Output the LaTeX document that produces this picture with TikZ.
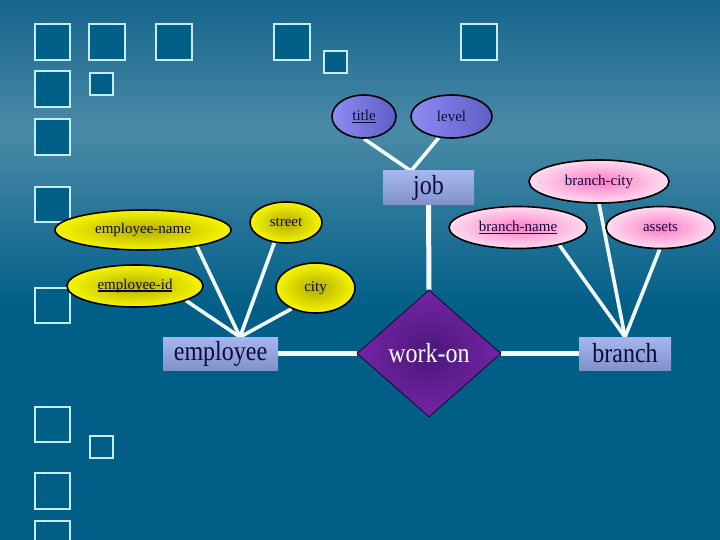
\documentclass[tikz,border=0pt]{standalone}
\usepackage{fontspec}
\setmainfont{Liberation Serif}
\usetikzlibrary{shapes.geometric}
\definecolor{bgtop}{HTML}{16658D}
\definecolor{bgmid}{HTML}{4A8AA7}
\definecolor{bgbot}{HTML}{005E87}
\definecolor{sqfill}{HTML}{005F87}
\definecolor{sqline}{HTML}{C4EEFF}
\definecolor{linew}{HTML}{F2FBFF}
\definecolor{navy}{HTML}{0C0C3C}
\definecolor{blueL}{HTML}{8C8CF2}
\definecolor{blueD}{HTML}{5E5EC4}
\definecolor{yelIn}{HTML}{B4AC00}
\definecolor{yelOut}{HTML}{F6F600}
\definecolor{pinkIn}{HTML}{FF7CC6}
\definecolor{pinkOut}{HTML}{FFDCF0}
\definecolor{dmdIn}{HTML}{4A1878}
\definecolor{dmdOut}{HTML}{7424A6}
\definecolor{entT}{HTML}{A6B6EE}
\definecolor{entB}{HTML}{8191CA}
\pgfdeclarelayer{backlayer}
\pgfdeclarelayer{linelayer}
\pgfsetlayers{backlayer,linelayer,main}
\newcommand\ulthick[2]{\leavevmode\setbox0\hbox{#2}\rlap{\rule[-2.4pt]{\wd0}{#1}}\box0}
\newcommand\tallname[1]{\scalebox{1}[1.15]{#1}}
\begin{document}
\begin{tikzpicture}[x=1pt,y=-1pt,
  sq/.style={draw=sqline,fill=sqfill,line width=1.3pt},
  attrline/.style={draw=linew,line width=3.6pt},
  relline/.style={draw=linew,line width=5pt},
  attrbase/.style={ellipse,draw=black,line width=1.6pt,inner sep=0pt,text=navy,font=\fontsize{15}{18}\selectfont},
  battr/.style={attrbase,left color=blueL,right color=blueD},
  yattr/.style={attrbase,inner color=yelIn,outer color=yelOut},
  pattr/.style={attrbase,inner color=pinkIn,outer color=pinkOut},
  ent/.style={rectangle,inner sep=0pt,top color=entT,bottom color=entB,text=navy,font=\fontsize{24}{28}\selectfont},
  rel/.style={diamond,inner sep=0pt,draw=black!70!dmdIn,line width=0.8pt,inner color=dmdIn,outer color=dmdOut,text=white,font=\fontsize{24}{28}\selectfont}
]
\useasboundingbox (0,0) rectangle (720,540);
\begin{pgfonlayer}{backlayer}
  \fill[top color=bgtop,bottom color=bgmid] (0,0) rectangle (720,130);
  \fill[top color=bgmid,bottom color=bgbot] (0,130) rectangle (720,312);
  \fill[bgbot] (0,312) rectangle (720,540);
  \foreach \a/\b/\c/\d in {35/24/70/60, 89/24/125/60, 156/24/192/60, 274/24/310/60, 324/51/347/73, 461/24/497/60,
      35/71/70/107, 90/73/113/95, 35/119/70/155, 35/187/70/222, 35/288/70/323,
      35/407/70/442, 90/436/113/458, 35/473/70/509, 35/521/70/560}
    \draw[sq] (\a,\b) rectangle (\c,\d);
\end{pgfonlayer}

% entities and relationship
\node[ent,minimum width=91pt,minimum height=34pt] (job) at (428.5,188) {\tallname{job}};
\node[ent,minimum width=115pt,minimum height=33pt] (employee) at (220.5,353.5) {\tallname{employee}};
\node[ent,minimum width=92pt,minimum height=33pt] (branch) at (625,353.5) {\tallname{branch}};
\node[rel,minimum width=144pt,minimum height=127pt] (workon) at (429,353.5) {\tallname{work-on}};

% attributes
\node[battr,minimum width=64pt,minimum height=43pt] (title) at (364,116.5) {\underline{title}};
\node[battr,minimum width=81pt,minimum height=43pt] (level) at (451.5,116.5) {level};
\node[pattr,minimum width=140pt,minimum height=43pt] (bcity) at (599,181.5) {branch-city};
\node[pattr,minimum width=138pt,minimum height=42pt] (bname) at (518,227.5) {\underline{branch-name}};
\node[pattr,minimum width=109pt,minimum height=42pt] (assets) at (660.5,227.5) {assets};
\node[yattr,minimum width=176pt,minimum height=40pt] (ename) at (143,230) {employee-name};
\node[yattr,minimum width=72pt,minimum height=41pt] (street) at (286,222.5) {street};
\node[yattr,minimum width=136pt,minimum height=42pt] (eid) at (135,286) {\ulthick{1.6pt}{employee-id}};
\node[yattr,minimum width=79pt,minimum height=50pt] (city) at (315.5,288) {city};

\coordinate (jt) at (411,171);
\coordinate (et) at (240,337);
\coordinate (bt) at (625,337);

\begin{pgfonlayer}{linelayer}
  \draw[attrline] (title.south) -- (jt);
  \draw[attrline] (level.-121) -- (jt);
  \draw[attrline] (ename.-17) -- (et);
  \draw[attrline] (street.-120) -- (et);
  \draw[attrline] (eid.-16) -- (et);
  \draw[attrline] (city.-139) -- (et);
  \draw[attrline] (bname.-23) -- (bt);
  \draw[attrline] (bcity.south) -- (bt);
  \draw[attrline] (assets.-92) -- (bt);
  \draw[relline] (job.south) -- (workon.north);
  \draw[relline] (employee.east) -- (workon.west);
  \draw[relline] (workon.east) -- (branch.west);
\end{pgfonlayer}
\end{tikzpicture}
\end{document}
